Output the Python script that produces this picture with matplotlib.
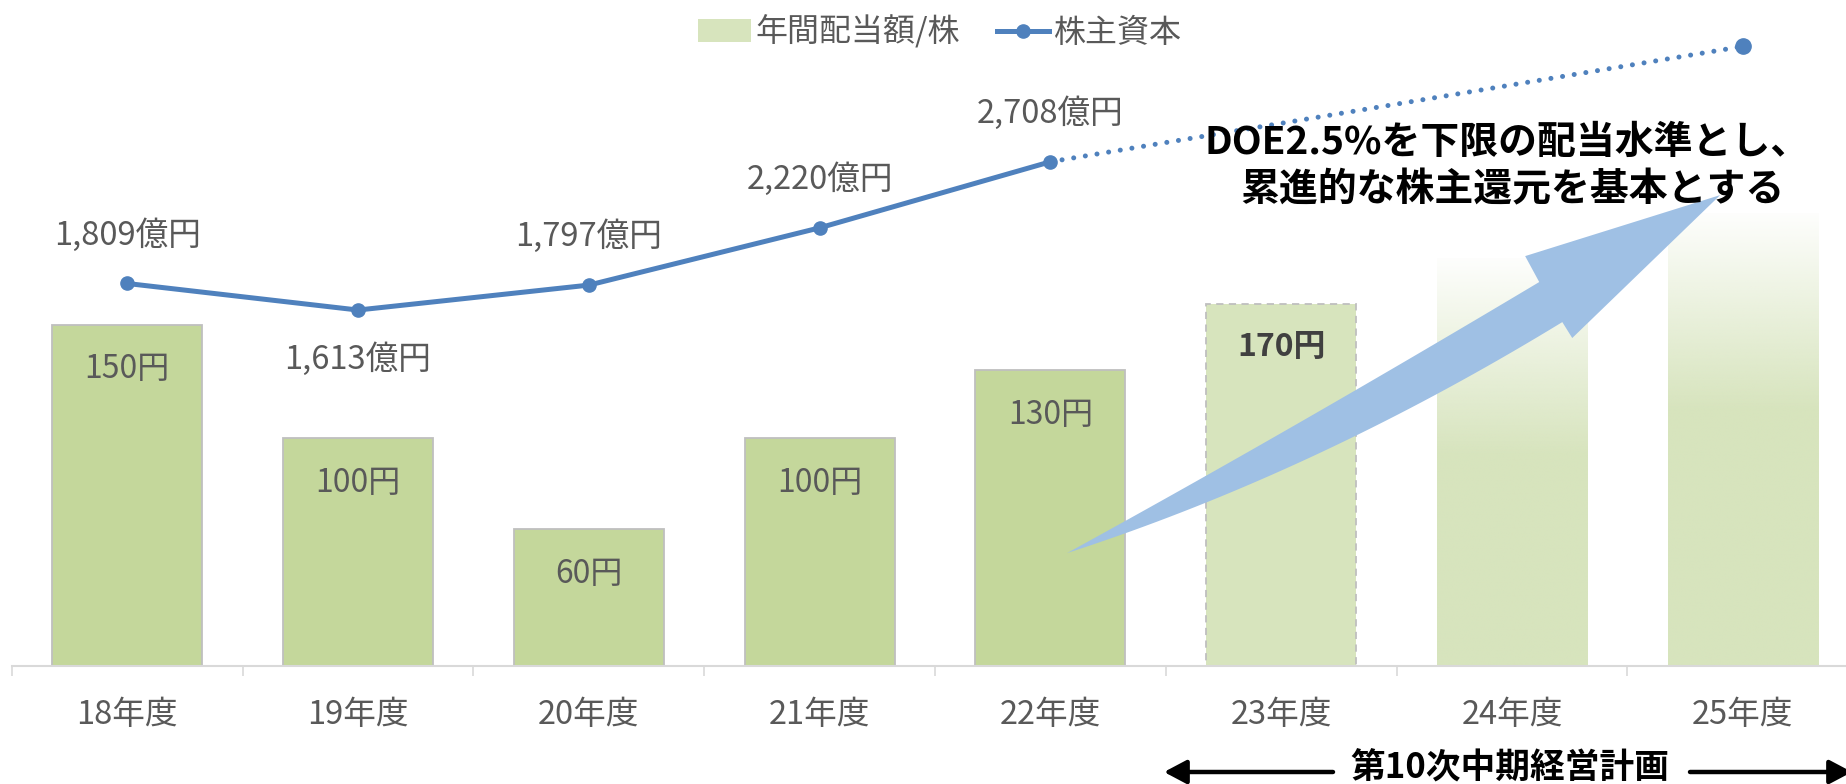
import numpy as np
import matplotlib.pyplot as plt
from matplotlib.patches import Patch, Polygon
from matplotlib.lines import Line2D
from matplotlib.colors import to_rgb

plt.rcParams['font.family'] = ['Noto Sans CJK JP', 'DejaVu Sans']

# ---- data ----
years = ["18年度", "19年度", "20年度", "21年度", "22年度", "23年度", "24年度", "25年度"]
dividend = [150, 100, 60, 100, 130]        # 年間配当額/株 (円), 実績
plan_height = 159                           # 23年度 bar as drawn
plan_label = "170円"
future_height = [179, 199]                  # 24・25年度 gradient bars
equity = [1809, 1613, 1797, 2220, 2708]     # 株主資本 (億円)
equity_target = 3560                        # 25年度 end point
label_below = [False, True, False, False, False]

GREEN = '#C4D79B'
LIGHT = '#D7E4BD'
BLUE = '#4F81BD'
GREY = '#595959'

W, H = 1846, 784
fig = plt.figure(figsize=(W / 100, H / 100), dpi=100)
ax = fig.add_axes([11.8 / W, 118 / H, 1846.4 / W, 646 / H])
ax2 = ax.twinx()

x = np.arange(len(dividend))
ax.bar(x, dividend, width=0.65, color=GREEN, edgecolor='#BFBFBF', linewidth=1.3, zorder=2)
for xi, v in zip(x, dividend):
    ax.annotate(f"{v}円", (xi, v), xytext=(0, -32), textcoords='offset points',
                ha='center', va='center', fontsize=23, color=GREY, zorder=6)

ax.bar(5, plan_height, width=0.65, color=LIGHT, edgecolor='#BFBFBF', linewidth=1.3,
       linestyle=(0, (4, 3)), zorder=2)
ax.annotate(plan_label, (5, plan_height), xytext=(0, -31), textcoords='offset points',
            ha='center', va='center', fontsize=23, fontweight='bold', color='#404040', zorder=6)

# gradient bars for 24/25年度
rgb = to_rgb(LIGHT)
for xi, h in zip([6, 7], future_height):
    rows = np.linspace(h, 0, 300)
    alpha = np.clip(0.04 + (h - rows) / 90, 0, 1)
    img = np.zeros((300, 1, 4))
    img[:, 0, :3] = rgb
    img[:, 0, 3] = alpha
    ax.imshow(img, extent=(xi - 0.325, xi + 0.325, 0, h), origin='upper',
              aspect='auto', zorder=1, interpolation='bilinear')

# big curved arrow: smooth lower/upper edges + head
t = np.linspace(0, 1, 40)
tail, low_ctrl, low_end = np.array([4.072, 49.6]), np.array([5.15, 85.0]), np.array([6.218, 151.1])
up_start, up_ctrl, up_end = np.array([4.072, 49.6]), np.array([5.05, 104.0]), np.array([6.118, 168.7])
lower = ((1 - t) ** 2)[:, None] * tail + (2 * t * (1 - t))[:, None] * low_ctrl + (t ** 2)[:, None] * low_end
upper = ((1 - t) ** 2)[:, None] * up_start + (2 * t * (1 - t))[:, None] * up_ctrl + (t ** 2)[:, None] * up_end
head = np.array([(6.261, 144.1), (6.902, 206.9), (6.057, 180.1)])
arrow_pts = np.vstack([lower, head, upper[::-1]])
ax.add_patch(Polygon(arrow_pts, closed=True, facecolor='#9FC0E4', edgecolor='none', zorder=3))

ax.set_xlim(-0.5, 7.5)
ax.set_ylim(0, 646 / 2.276)
ax2.set_ylim(-1016, 3755)

# 株主資本 line
ax2.plot(x, equity, color=BLUE, lw=3.6, marker='o', ms=9.5, solid_capstyle='round', zorder=5)
ax2.plot([4, 7], [equity[-1], equity_target], color=BLUE, lw=3.6,
         linestyle=(0, (0.01, 2.35)), dash_capstyle='round', zorder=5)
ax2.plot(7, equity_target, 'o', color=BLUE, ms=11, zorder=5)
for xi, v, below in zip(x, equity, label_below):
    ax2.annotate(f"{v:,}億円", (xi, v), xytext=(0, -35 if below else 35),
                 textcoords='offset points', ha='center', va='center',
                 fontsize=23.5, color=GREY)

# axes styling
for a in (ax, ax2):
    for s in ('top', 'right', 'left'):
        a.spines[s].set_visible(False)
ax2.spines['bottom'].set_visible(False)
ax.spines['bottom'].set_color('#D9D9D9')
ax.spines['bottom'].set_linewidth(1.5)
ax.set_yticks([])
ax2.set_yticks([])
ax.set_xticks(range(len(years)), years)
ax.set_xticks(np.arange(-0.5, 8, 1), minor=True)
ax.tick_params(axis='x', which='major', length=0, pad=24, labelsize=23.5, labelcolor=GREY)
ax.tick_params(axis='x', which='minor', length=7.5, width=1.2, color='#D9D9D9')

# legend
handles = [Patch(facecolor=LIGHT, label='年間配当額/株'),
           Line2D([], [], color=BLUE, lw=3.6, marker='o', ms=9.5, label='株主資本')]
fig.legend(handles=handles, loc='center', bbox_to_anchor=(940 / W, 1 - 32 / H), ncol=2,
           frameon=False, fontsize=23, handlelength=1.65, handleheight=0.7,
           handletextpad=0.15, columnspacing=1.15, labelcolor=GREY)

# headline
fig.text(1507 / W, 1 - 142 / H, "DOE2.5%を下限の配当水準とし、", ha='center', va='center',
         fontsize=28, fontweight='bold', color='black')
fig.text(1512 / W, 1 - 190 / H, "累進的な株主還元を基本とする", ha='center', va='center',
         fontsize=28, fontweight='bold', color='black')

# 第10次中期経営計画 span
fig.text(1510 / W, 1 - 768 / H, "第10次中期経営計画", ha='center', va='center',
         fontsize=25, fontweight='bold', color='black')
arrow_kw = dict(arrowstyle='-|>,head_length=0.68,head_width=0.36', lw=3.2, color='black',
                mutation_scale=20, shrinkA=0, shrinkB=0)
ax.annotate('', xy=(1164, H - 772), xycoords='figure pixels', xytext=(1333, H - 772),
            textcoords='figure pixels', arrowprops=arrow_kw, annotation_clip=False)
ax.annotate('', xy=(1852, H - 772), xycoords='figure pixels', xytext=(1690, H - 772),
            textcoords='figure pixels', arrowprops=arrow_kw, annotation_clip=False)

fig.savefig('out.png', dpi=100)
